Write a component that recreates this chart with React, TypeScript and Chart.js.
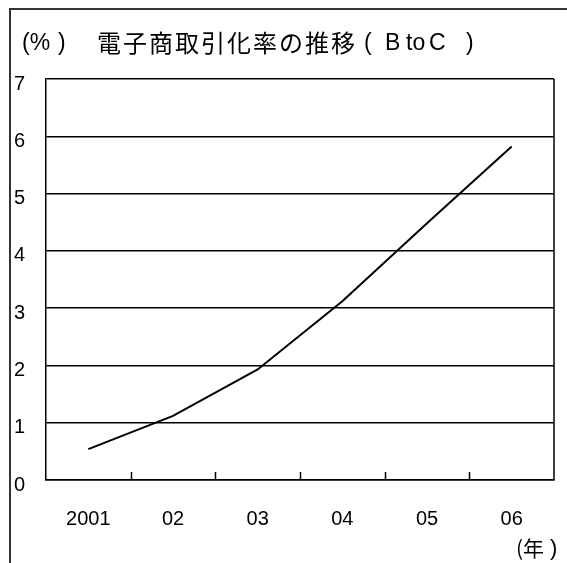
import React, { useEffect, useRef } from 'react';
import { Chart, registerables } from 'chart.js';

Chart.register(...registerables);

// ---- data ----
const categories = ['2001', '02', '03', '04', '05', '06'];
const rateValues = [0.54, 1.12, 1.93, 3.12, 4.48, 5.82];
const yTicks = [0, 1, 2, 3, 4, 5, 6, 7];
const titleUnit = '(%';
const titleUnitClose = ')';
const titleMain = '電子商取引化率の推移';
const titleSuffixParts = ['(', 'B', 'to', 'C', ')'];
const xUnit = '(年';
const xUnitClose = ')';

const LATIN = '"Liberation Sans", Arial, sans-serif';
const CJK = '"Noto Sans CJK JP", sans-serif';

const decorPlugin = {
  id: 'decorPlugin',
  afterDraw(chart: any) {
    const { ctx, chartArea, scales, width, height } = chart;
    const xs = scales.x;
    ctx.save();
    // outer frame (top and left edges visible)
    ctx.strokeStyle = '#333';
    ctx.lineWidth = 2;
    ctx.beginPath();
    ctx.moveTo(10, height);
    ctx.lineTo(10, 9);
    ctx.lineTo(width, 9);
    ctx.stroke();

    // right border of plot area
    ctx.strokeStyle = '#000';
    ctx.lineWidth = 1.5;
    ctx.beginPath();
    ctx.moveTo(chartArea.right, chartArea.top);
    ctx.lineTo(chartArea.right, chartArea.bottom);
    // inner tick marks between categories
    for (let i = 1; i < categories.length; i++) {
      const px = Math.round((xs.getPixelForValue(i - 1) + xs.getPixelForValue(i)) / 2) + 0.5;
      ctx.moveTo(px, chartArea.bottom);
      ctx.lineTo(px, chartArea.bottom - 8);
    }
    ctx.stroke();

    // title
    ctx.fillStyle = '#000';
    ctx.textBaseline = 'middle';
    ctx.textAlign = 'left';
    ctx.font = '23px ' + LATIN;
    ctx.fillText(titleUnit, 22, 44);
    ctx.fillText(titleUnitClose, 58, 44);
    ctx.font = '24px ' + CJK;
    (ctx as any).letterSpacing = '2px';
    ctx.fillText(titleMain, 97, 43);
    (ctx as any).letterSpacing = '0px';
    ctx.font = '23px ' + LATIN;
    const suffixX = [364, 385, 406, 429, 466];
    titleSuffixParts.forEach((p, i) => ctx.fillText(p, suffixX[i], 44));

    // x unit
    ctx.font = '21px ' + CJK;
    ctx.fillText(xUnit, 516, 548);
    ctx.font = '22px ' + LATIN;
    ctx.fillText(xUnitClose, 550, 549);
    ctx.restore();
  },
};

export default function App() {
  const ref = useRef<HTMLCanvasElement | null>(null);

  useEffect(() => {
    if (!ref.current) return;
    const chart = new Chart(ref.current, {
      type: 'line',
      data: {
        labels: categories,
        datasets: [
          {
            data: rateValues,
            borderColor: '#000',
            borderWidth: 2,
            pointRadius: 0,
            tension: 0,
            fill: false,
          },
        ],
      },
      options: {
        responsive: false,
        animation: false,
        devicePixelRatio: 1,
        layout: { padding: { left: 14, top: 79, right: 13, bottom: 0 } },
        plugins: {
          legend: { display: false },
          title: { display: false },
          tooltip: { enabled: false },
        },
        scales: {
          x: {
            offset: true,
            grid: { display: false, drawTicks: false },
            border: { display: true, color: '#000', width: 1.5 },
            ticks: {
              color: '#000',
              font: { family: LATIN, size: 20 },
              padding: 27,
              maxRotation: 0,
              autoSkip: false,
            },
            afterFit: (s: any) => {
              s.height = 83;
            },
          },
          y: {
            min: 0,
            max: 7,
            afterBuildTicks: (s: any) => {
              s.ticks = yTicks.map((v) => ({ value: v }));
            },
            grid: { color: '#000', lineWidth: 1.5, drawTicks: false },
            border: { display: true, color: '#000', width: 1.5 },
            ticks: {
              color: '#000',
              font: { family: LATIN, size: 20 },
              crossAlign: 'far',
              padding: 0,
              labelOffset: 5,
            },
            afterFit: (s: any) => {
              s.width = 32;
            },
          },
        },
      },
      plugins: [decorPlugin],
    } as any);
    return () => chart.destroy();
  }, []);

  return (
    <div style={{ position: 'fixed', left: 0, top: 0, width: 567, height: 563, background: '#fff' }}>
      <canvas ref={ref} width={567} height={563} style={{ display: 'block' }} />
    </div>
  );
}
